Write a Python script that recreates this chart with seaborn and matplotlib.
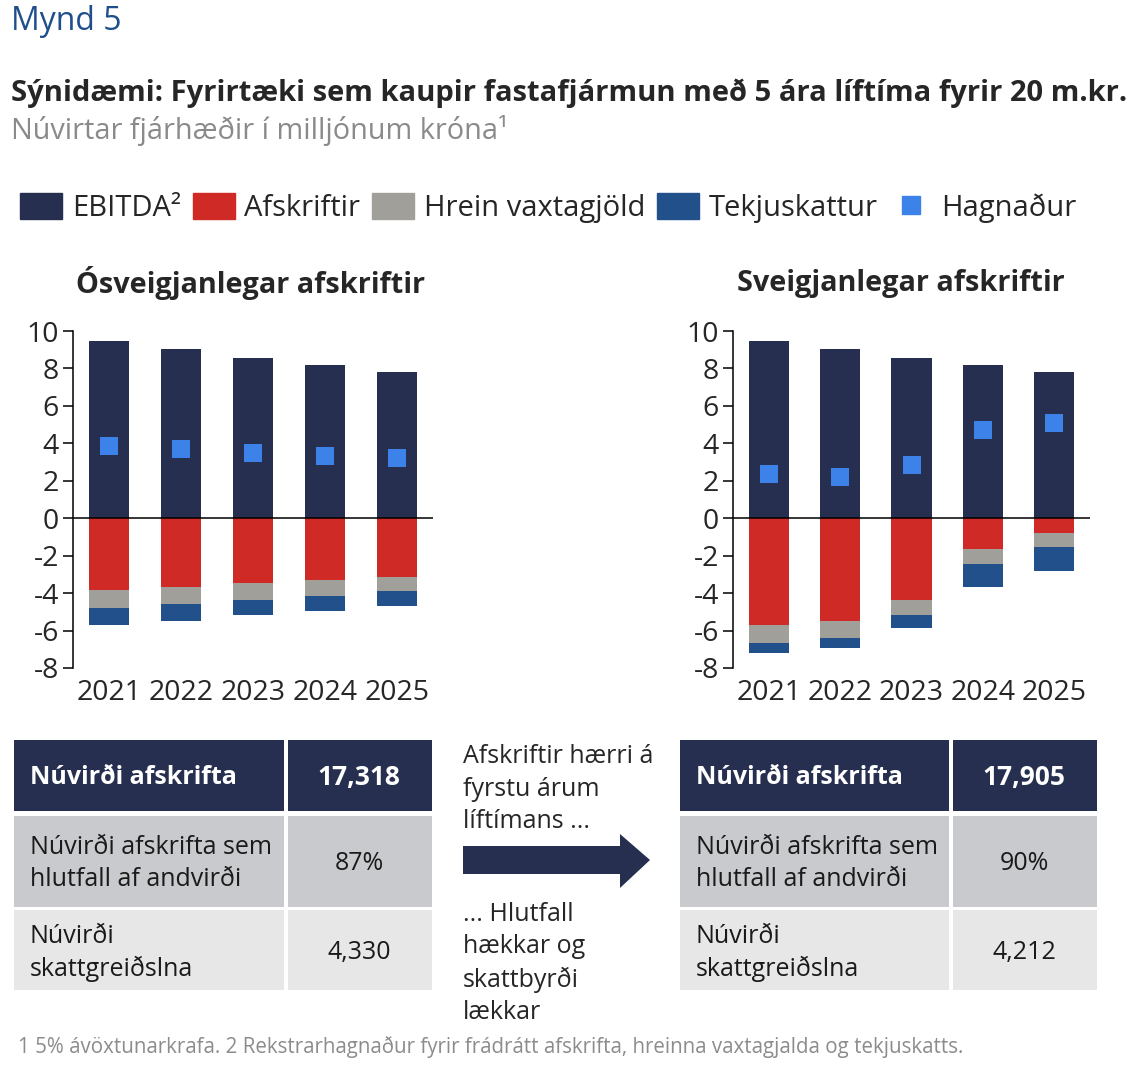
import numpy as np
import matplotlib
matplotlib.use("Agg")
import matplotlib.pyplot as plt
import seaborn as sns
from matplotlib.patches import Patch, Rectangle, Polygon
from matplotlib.lines import Line2D

# gögn lesin af myndinni (m.kr.)
years = ["2021", "2022", "2023", "2024", "2025"]
ebitda = [9.48, 9.04, 8.57, 8.21, 7.82]

afskr_fast = [-3.82, -3.68, -3.45, -3.29, -3.14]
vextir_fast = [-0.96, -0.91, -0.91, -0.84, -0.75]
skattur_fast = [-0.91, -0.89, -0.82, -0.82, -0.82]
hagn_fast = [3.88, 3.71, 3.50, 3.34, 3.20]

afskr_sveig = [-5.71, -5.50, -4.36, -1.64, -0.79]
vextir_sveig = [-0.98, -0.89, -0.82, -0.82, -0.77]
skattur_sveig = [-0.52, -0.52, -0.66, -1.20, -1.27]
hagn_sveig = [2.36, 2.20, 2.82, 4.70, 5.09]

row_labels = ["Núvirði afskrifta", "Núvirði afskrifta sem\nhlutfall af andvirði", "Núvirði\nskattgreiðslna"]
tafla_fast = ["17,318", "87%", "4,330"]
tafla_sveig = ["17,905", "90%", "4,212"]

C_EBITDA = "#262f4f"
C_AFSK = "#d02a26"
C_VEXT = "#a09f9a"
C_SKATT = "#22508a"
C_HAGN = "#3c82e8"

sns.set_style("white")
plt.rcParams["font.family"] = ["Open Sans", "DejaVu Sans"]
plt.rcParams["axes.unicode_minus"] = False

W, H = 1132, 1065
fig = plt.figure(figsize=(W / 100, H / 100), dpi=100)

# yfirlags-ás í pixlum fyrir texta og töflur
ov = fig.add_axes([0, 0, 1, 1])
ov.set_xlim(0, W)
ov.set_ylim(H, 0)
ov.axis("off")


def px_axes(x0, y0, x1, y1):
    return fig.add_axes([x0 / W, 1 - y1 / H, (x1 - x0) / W, (y1 - y0) / H])


def draw_panel(ax, afskr, vextir, skattur, hagn, title, xc):
    c1 = np.array(afskr)
    c2 = c1 + np.array(vextir)
    c3 = c2 + np.array(skattur)
    for vals, col in [(c3, C_SKATT), (c2, C_VEXT), (c1, C_AFSK), (ebitda, C_EBITDA)]:
        sns.barplot(x=years, y=vals, color=col, saturation=1, width=0.565,
                    errorbar=None, linewidth=0, ax=ax)
    sns.stripplot(x=years, y=hagn, jitter=False, marker="s", size=12.5,
                  color=C_HAGN, linewidth=0, ax=ax, zorder=5)
    ax.axhline(0, color="black", lw=1.1, zorder=4)
    ax.set_xlim(-0.5, 4.5)
    ax.set_ylim(-8, 10)
    ax.set_yticks(range(-8, 11, 2))
    for s in ["top", "right", "bottom"]:
        ax.spines[s].set_visible(False)
    ax.spines["left"].set_color("black")
    ax.spines["left"].set_linewidth(1.1)
    ax.tick_params(axis="y", length=7, width=1.1, color="black", labelsize=20.5, pad=3, left=True)
    ax.tick_params(axis="x", length=0, labelsize=20.5, pad=8)
    ax.set_xlabel("")
    ax.set_ylabel("")
    ov.text(xc, 283, title, ha="center", va="center", fontsize=20.8, fontweight="bold")


ax1 = px_axes(73, 331, 433, 668)
draw_panel(ax1, afskr_fast, vextir_fast, skattur_fast, hagn_fast, "Ósveigjanlegar afskriftir", 251)
ax2 = px_axes(733, 331, 1090, 668)
draw_panel(ax2, afskr_sveig, vextir_sveig, skattur_sveig, hagn_sveig, "Sveigjanlegar afskriftir", 901)

# fyrirsagnir
ov.text(11, 22, "Mynd 5", ha="left", va="center", fontsize=23, color="#1f4e8c")
ov.text(11, 93, "Sýnidæmi: Fyrirtæki sem kaupir fastafjármun með 5 ára líftíma fyrir 20 m.kr.",
        ha="left", va="center", fontsize=21, fontweight="bold")
ov.text(11, 130, "Núvirtar fjárhæðir í milljónum króna¹", ha="left", va="center",
        fontsize=20.8, color="#8a8a8a")

handles = [Patch(color=C_EBITDA), Patch(color=C_AFSK), Patch(color=C_VEXT), Patch(color=C_SKATT),
           Line2D([], [], marker="s", color=C_HAGN, ls="none", markersize=12.5)]
labels = ["EBITDA²", "Afskriftir", "Hrein vaxtagjöld", "Tekjuskattur", "Hagnaður"]
fig.legend(handles, labels, loc="center left", bbox_to_anchor=(20 / W, 1 - 208 / H), ncol=5,
           frameon=False, fontsize=21, handlelength=1.44, handleheight=1.0, handletextpad=0.34,
           columnspacing=0.4, borderpad=0, borderaxespad=0)


def draw_table(x0, xm, x1, vals):
    rows = [(740, 811, C_EBITDA), (816, 907, "#c9cacd"), (910, 990, "#e7e7e8")]
    for i, (ya, yb, col) in enumerate(rows):
        ov.add_patch(Rectangle((x0, ya), xm - x0 - 2, yb - ya, color=col, lw=0))
        ov.add_patch(Rectangle((xm + 2, ya), x1 - xm - 2, yb - ya, color=col, lw=0))
        yc = (ya + yb) / 2 + (3 if i == 2 else 2)
        bold = i == 0
        tc = "white" if bold else "#1a1a1a"
        ov.text(x0 + 16, yc, row_labels[i], ha="left", va="center", fontsize=18,
                fontweight="bold" if bold else "normal", color=tc, linespacing=1.36)
        ov.text((xm + x1) / 2, yc, vals[i], ha="center", va="center",
                fontsize=19 if bold else 18, fontweight="bold" if bold else "normal", color=tc)


draw_table(14, 286, 432, tafla_fast)
draw_table(680, 951, 1097, tafla_sveig)

# ör og skýringartexti
ov.add_patch(Polygon([(463, 846), (620, 846), (620, 834), (650, 860), (620, 888), (620, 874), (463, 874)],
                     closed=True, color=C_EBITDA, lw=0))
ov.text(463, 744, "Afskriftir hærri á\nfyrstu árum\nlíftímans ...", ha="left", va="top",
        fontsize=18, linespacing=1.4)
ov.text(463, 902, "... Hlutfall\nhækkar og\nskattbyrði\nlækkar", ha="left", va="top",
        fontsize=18, linespacing=1.38)

ov.text(18, 1047, "1 5% ávöxtunarkrafa. 2 Rekstrarhagnaður fyrir frádrátt afskrifta, hreinna vaxtagjalda og tekjuskatts.",
        ha="left", va="center", fontsize=14.8, color="#8c8c8c")

fig.savefig("out.png", dpi=100)
